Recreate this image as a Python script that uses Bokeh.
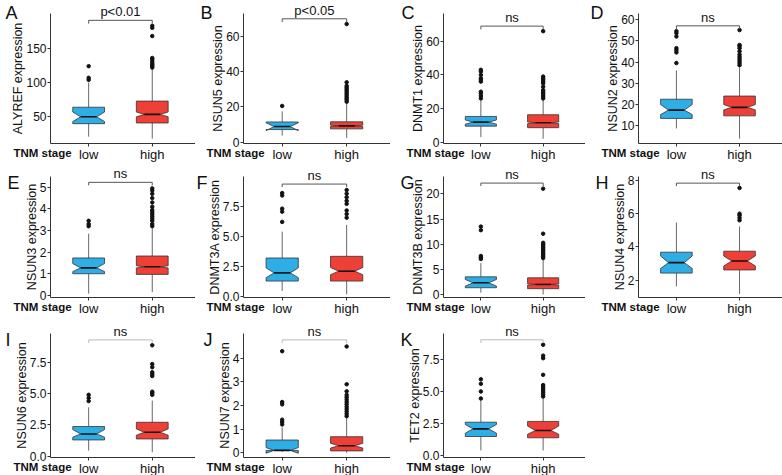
from bokeh.plotting import figure
from bokeh.models import Range1d, FixedTicker, Label, LinearAxis
from bokeh.layouts import column, row
from bokeh.embed import file_html
from bokeh.resources import INLINE

# ---------------- data ----------------
groups = ["low", "high"]
group_pos = [1, 2]
letters = ["A", "B", "C", "D", "E", "F", "G", "H", "I", "J", "K"]
genes = ["ALYREF", "NSUN5", "DNMT1", "NSUN2", "NSUN3", "DNMT3A",
         "DNMT3B", "NSUN4", "NSUN6", "NSUN7", "TET2"]
p_text = ["p<0.01", "p<0.05", "ns", "ns", "ns", "ns", "ns", "ns", "ns", "ns", "ns"]
x_title = "TNM stage"

# low group
whisk_lo_low = [21, 3.8, 3, 8.8, 0.08, 0.5, 0.45, 1.62, 0.45, 0.03, 0.39]
q1_low = [40, 7.2, 9.5, 13.5, 1.0, 1.32, 1.43, 2.42, 1.3, 0.1, 1.48]
notch_lo_low = [43, 6.6, 10.7, 15.3, 1.1, 1.6, 1.76, 2.7, 1.52, -0.02, 1.74]
median_low = [50, 8.9, 11.9, 17.4, 1.27, 2.0, 2.4, 3.05, 1.78, 0.1, 2.08]
notch_hi_low = [57, 11.0, 13.2, 20.0, 1.47, 2.42, 3.06, 3.45, 2.13, 0.22, 2.42]
q3_low = [64, 11.5, 15.3, 22.5, 1.73, 3.24, 3.58, 3.68, 2.37, 0.54, 2.6]
whisk_hi_low = [100, 17.5, 24.8, 36, 2.85, 5.44, 6.3, 5.47, 3.9, 1.07, 4.3]
outliers_low = [
    [104, 107, 124],
    [20.6],
    [26, 27.5, 29, 30, 36, 37, 38, 40, 42, 43],
    [39.5, 44.5, 45.5, 46.5, 52, 53.5, 54.5],
    [3.2, 3.3, 3.45],
    [6.25, 7.1, 7.35, 8.45, 8.65],
    [7.1, 7.4, 7.7, 12.8, 13.5],
    [],
    [4.4, 4.65, 4.9],
    [1.2, 1.3, 1.4, 2.05, 2.15, 4.3],
    [4.45, 5.0, 5.6, 5.95],
]

# high group
whisk_lo_high = [18, 2.5, 2, 4, 0.15, 0.22, 0.1, 1.17, 0.32, 0.0, 0.39]
q1_high = [41, 7.6, 8.6, 14.7, 0.97, 1.32, 1.24, 2.61, 1.38, 0.08, 1.38]
notch_lo_high = [50, 8.9, 11.0, 17.5, 1.27, 1.85, 1.95, 2.85, 1.68, 0.2, 1.66]
median_high = [53.5, 9.3, 11.5, 18.7, 1.32, 2.14, 2.08, 3.15, 1.91, 0.3, 1.95]
notch_hi_high = [57, 9.7, 12.0, 20.0, 1.37, 2.45, 2.21, 3.45, 2.18, 0.4, 2.3]
q3_high = [73, 11.6, 16.3, 24, 1.82, 3.38, 3.39, 3.74, 2.71, 0.68, 2.66]
whisk_hi_high = [120, 22.3, 25, 37.5, 3.1, 6.0, 7.0, 5.23, 4.44, 1.5, 4.43]
outliers_high = [
    [122, 124, 126, 128, 131, 134, 136, 168, 180, 183],
    [23, 24, 25, 26, 27, 28, 29, 30, 31, 32, 34, 67],
    [26, 27, 28, 29, 30, 31, 33, 35, 36, 37, 38, 39, 66],
    [38.5, 39.5, 40.5, 41.5, 42.5, 43.5, 45, 46.5, 47.5, 48, 55],
    [3.2, 3.3, 3.45, 3.55, 3.65, 3.75, 3.85, 3.95, 4.1, 4.3, 4.5, 4.7, 4.85, 4.95],
    [6.6, 6.9, 7.2, 7.75, 8.0, 8.3, 8.6, 8.9],
    [7.3, 7.6, 7.9, 8.2, 8.5, 8.8, 9.1, 9.4, 9.7, 10.0, 10.3, 12.1, 21.0],
    [5.6, 5.75, 5.9, 6.0, 7.55],
    [4.9, 5.05, 5.15, 6.4, 6.55, 6.7, 7.1, 7.35, 8.85],
    [1.55, 1.65, 1.75, 1.85, 1.95, 2.05, 2.15, 2.25, 2.35, 2.45, 2.6, 2.9, 4.5],
    [4.6, 4.75, 4.9, 5.05, 5.2, 5.35, 5.5, 6.3, 7.6, 7.8, 8.65],
]

y_ticks = [
    [50, 100, 150],
    [0, 20, 40, 60],
    [0, 20, 40, 60],
    [10, 20, 30, 40, 50, 60],
    [0, 1, 2, 3, 4, 5],
    [0, 2.5, 5, 7.5],
    [0, 5, 10, 15, 20],
    [2, 4, 6, 8],
    [0, 2.5, 5, 7.5],
    [0, 1, 2, 3, 4],
    [0, 2.5, 5, 7.5],
]
y_tick_labels = [
    ["50", "100", "150"],
    ["0", "20", "40", "60"],
    ["0", "20", "40", "60"],
    ["10", "20", "30", "40", "50", "60"],
    ["0", "1", "2", "3", "4", "5"],
    ["0.0", "2.5", "5.0", "7.5"],
    ["0", "5", "10", "15", "20"],
    ["2", "4", "6", "8"],
    ["0.0", "2.5", "5.0", "7.5"],
    ["0", "1", "2", "3", "4"],
    ["0.0", "2.5", "5.0", "7.5"],
]

# ---------------- layout / style ----------------
y_lims = [(11, 201), (-0.7, 73), (-0.8, 76.5), (1.7, 62.8),
          (-0.1, 5.5), (-0.05, 10.03), (-0.5, 23.4), (0.95, 8.24),
          (-0.1, 9.79), (-0.2, 5.05), (-0.16, 9.53)]
x_lims = (0.4, 2.68)
bracket_y = [191, 70, 69, 57, 5.23, 9.4, 22.1, 7.84, 9.28, 4.78, 9.04]
bracket_col = ["#555555"] * 8 + ["#bbbbbb"] * 3

FILL = ["#2FAEE6", "#EE4036"]
FONT = "Liberation Sans"
BOX_W = 0.5

col_w = [195, 195, 195, 197]
pad_l = [50, 48, 53, 53]     # canvas px left of the plotting area
pad_r = [0, 0, 0, 0]
row_h = [163, 156, 156]
pad_t = [13, 13, 14]
pad_b = [20, 22, 18]
letter_top = [2, 9, 10]      # px from canvas top
letter_x = [5, 5, 11, 5, 7, 1, 10, 10, 5, 8, 10]


def notch_poly(x, q1, q3, nlo, nhi, med):
    hw = BOX_W / 2
    nw = hw * 0.5
    xs = [x - hw, x - hw, x - nw, x - hw, x - hw, x + hw, x + hw, x + nw, x + hw, x + hw]
    ys = [q1, nlo, med, nhi, q3, q3, nhi, med, nlo, q1]
    return xs, ys


def make_panel(i, r, c):
    W, H = col_w[c], row_h[r]
    L, R, T, B = pad_l[c], pad_r[c], pad_t[r], pad_b[r]
    ylo, yhi = y_lims[i]
    x0, x1 = x_lims
    ux = (W - L - R) / (x1 - x0)
    uy = (H - T - B) / (yhi - ylo)
    p = figure(width=W, height=H,
               x_range=Range1d(x0 - L / ux, x1 + R / ux),
               y_range=Range1d(ylo - B / uy, yhi + T / uy),
               x_axis_location=None, y_axis_location=None,
               output_backend="svg", toolbar_location=None,
               min_border=0)
    p.outline_line_color = None
    p.grid.visible = False
    p.background_fill_color = "white"
    p.border_fill_color = "white"

    xa = LinearAxis(fixed_location=ylo, bounds=x_lims)
    xa.ticker = FixedTicker(ticks=group_pos)
    xa.major_label_overrides = {gp: g for gp, g in zip(group_pos, groups)}
    ya = LinearAxis(fixed_location=x0, bounds=(ylo, yhi))
    ya.ticker = FixedTicker(ticks=y_ticks[i])
    ya.major_label_overrides = {t: s for t, s in zip(y_ticks[i], y_tick_labels[i])}
    for ax in (xa, ya):
        ax.axis_line_color = "#333333"
        ax.major_tick_line_color = "#333333"
        ax.minor_tick_line_color = None
        ax.major_tick_in = 0
        ax.major_tick_out = 3
        ax.major_label_text_font = FONT
        ax.major_label_text_color = "#111111"
    xa.major_label_text_font_size = "13px"
    ya.major_label_text_font_size = "12px"
    xa.major_label_standoff = 0
    ya.major_label_standoff = 1
    ya.axis_label = genes[i] + " expression"
    ya.axis_label_text_font = FONT
    ya.axis_label_text_font_size = "12.5px"
    ya.axis_label_text_font_style = "normal"
    ya.axis_label_text_color = "#111111"
    ya.axis_label_standoff = -2
    p.add_layout(xa, "below")
    p.add_layout(ya, "left")

    stats = [
        (whisk_lo_low[i], q1_low[i], notch_lo_low[i], median_low[i], notch_hi_low[i], q3_low[i], whisk_hi_low[i], outliers_low[i]),
        (whisk_lo_high[i], q1_high[i], notch_lo_high[i], median_high[i], notch_hi_high[i], q3_high[i], whisk_hi_high[i], outliers_high[i]),
    ]
    for gi, (wl, q1, nlo, med, nhi, q3, wh, outs) in enumerate(stats):
        x = group_pos[gi]
        p.segment(x0=[x, x], y0=[q3, q1], x1=[x, x], y1=[wh, wl],
                  line_color="#666666", line_width=1)
        xs, ys = notch_poly(x, q1, q3, nlo, nhi, med)
        p.patches(xs=[xs], ys=[ys], fill_color=FILL[gi], line_color="#333333",
                  line_width=0.8)
        nw = BOX_W / 4
        p.segment(x0=[x - nw], y0=[med], x1=[x + nw], y1=[med],
                  line_color="#111111", line_width=1.6)
        if outs:
            p.scatter(x=[x] * len(outs), y=outs, size=3.5, color="#111111")

    # significance bracket
    b = bracket_y[i]
    tip = 0.025 * (yhi - ylo)
    p.segment(x0=[group_pos[0], group_pos[0], group_pos[1]], y0=[b, b, b],
              x1=[group_pos[1], group_pos[0], group_pos[1]], y1=[b, b - tip, b - tip],
              line_color=bracket_col[i], line_width=1)
    p.add_layout(Label(x=(group_pos[0] + group_pos[1]) / 2, y=b, y_offset=1,
                       text=p_text[i], text_align="center", text_baseline="bottom",
                       text_font=FONT, text_font_size="13px", text_color="#111111"))

    # panel letter
    p.add_layout(Label(x=letter_x[i], y=H - letter_top[r],
                       x_units="screen", y_units="screen", text=letters[i],
                       text_align="left", text_baseline="top",
                       text_font=FONT, text_font_size="18px", text_color="#111111"))
    # x-axis title on the tick-label line
    p.add_layout(Label(x=L - 37, y=B - 9, x_units="screen", y_units="screen",
                       text=x_title, text_align="left", text_baseline="middle",
                       text_font=FONT, text_font_size="11.5px", text_font_style="bold",
                       text_color="#111111"))
    return p


rows = []
idx = 0
for r, ncols in enumerate([4, 4, 3]):
    figs = []
    for c in range(ncols):
        figs.append(make_panel(idx, r, c))
        idx += 1
    rows.append(row(*figs))

layout = column(*rows)

open("out.html", "w").write(file_html(layout, INLINE))
